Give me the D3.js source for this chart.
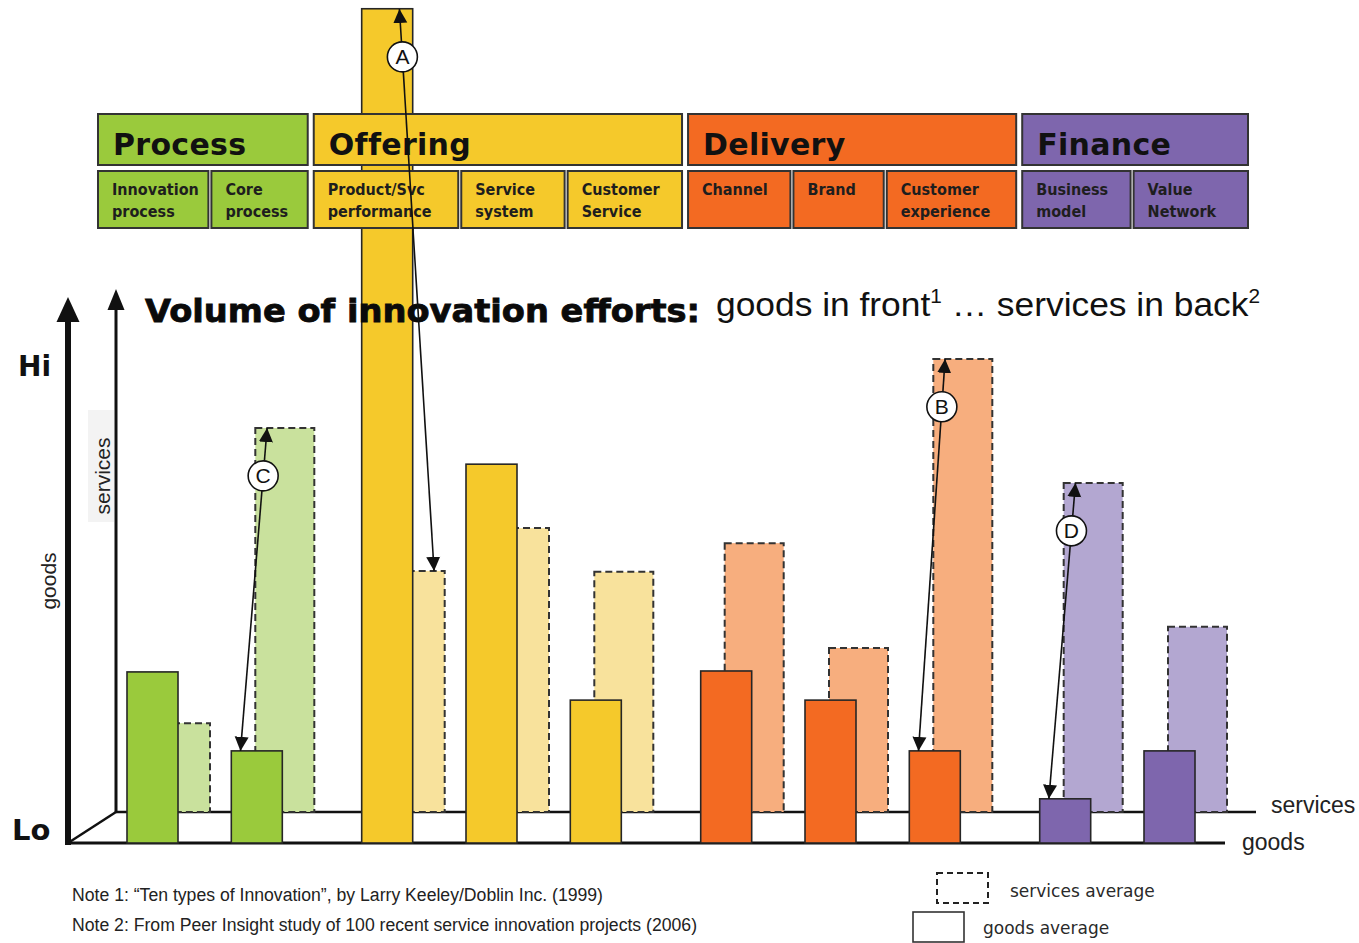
<!DOCTYPE html>
<html>
<head>
<meta charset="utf-8">
<script src="https://cdn.jsdelivr.net/npm/d3@7"></script>
<style>
  html, body { margin: 0; padding: 0; background: #fff; }
  svg { display: block; }
</style>
</head>
<body>
<svg id="chart" width="1359" height="943"></svg>
<script>
// ---------------- data ----------------
const groups = ["Process", "Offering", "Delivery", "Finance"];
const categories = ["Innovation process", "Core process", "Product/Svc performance", "Service system",
  "Customer Service", "Channel", "Brand", "Customer experience", "Business model", "Value Network"];
const categoryGroups = ["Process", "Process", "Offering", "Offering", "Offering",
  "Delivery", "Delivery", "Delivery", "Finance", "Finance"];
// volume of innovation efforts (relative index, 100 = "Hi")
const goodsValues = [36.4, 19.6, 177.5, 80.6, 30.4, 36.6, 30.4, 19.6, 9.4, 19.6];
const servicesValues = [18.9, 81.7, 51.3, 60.4, 51.1, 57.2, 34.9, 96.4, 70.0, 39.4];
const annotationLabels = ["A", "B", "C", "D"];
const annotationCategories = ["Product/Svc performance", "Customer experience", "Core process", "Business model"];
const titleBold = "Volume of innovation efforts:";
const noteTexts = ["Note 1: \u201CTen types of Innovation\u201D, by Larry Keeley/Doblin Inc. (1999)",
  "Note 2: From Peer Insight study of 100 recent service innovation projects (2006)"];
const legendLabels = ["services average", "goods average"];

// ---------------- layout / style ----------------
const groupColor = d3.scaleOrdinal().domain(groups).range(["#9ACA3C", "#F5C92B", "#F36A22", "#7E66AD"]);
const groupLight = d3.scaleOrdinal().domain(groups).range(["#C9E19D", "#F8E29C", "#F7AE7E", "#B3A7D1"]);
const headerWeights = [110, 96, 144, 103, 114, 102, 90, 129, 108, 114];

const svg = d3.select("#chart");
const goodsBase = 843, servBase = 812;
const gW = 51, sW = 59, sDx = 24;

// x positions: category index plus a gap between groups
const unit = categories.map((c, i) => i + 0.25 * groups.indexOf(categoryGroups[i]));
const x = d3.scaleLinear().domain([0, d3.max(unit)]).range([127, 1144]);
const h = d3.scaleLinear().domain([0, 100]).range([0, 470]);

const gLeft = i => x(unit[i]);
const sLeft = i => x(unit[i]) + sDx;
const gTop = i => goodsBase - h(goodsValues[i]);
const sTop = i => servBase - h(servicesValues[i]);

const stroke = "#262626";

// services baseline
svg.append("line").attr("x1", 116).attr("x2", 1256).attr("y1", servBase).attr("y2", servBase)
  .attr("stroke", "#111").attr("stroke-width", 2.5);

// services bars (back)
svg.append("g").selectAll("rect").data(categories).join("rect")
  .attr("x", (d, i) => sLeft(i)).attr("width", sW)
  .attr("y", (d, i) => sTop(i)).attr("height", (d, i) => servBase - sTop(i))
  .attr("fill", (d, i) => groupLight(categoryGroups[i]))
  .attr("stroke", "#333").attr("stroke-width", 2).attr("stroke-dasharray", "7,4");

// "services" label background
svg.append("rect").attr("x", 88).attr("y", 410).attr("width", 26).attr("height", 112).attr("fill", "#f3f3f3");

// axes
svg.append("line").attr("x1", 116).attr("x2", 116).attr("y1", servBase).attr("y2", 306)
  .attr("stroke", "#111").attr("stroke-width", 3);
svg.append("path").attr("d", "M116,289 L124.5,310 L107.5,310 Z").attr("fill", "#111");
svg.append("line").attr("x1", 68).attr("y1", goodsBase).attr("x2", 116).attr("y2", servBase)
  .attr("stroke", "#111").attr("stroke-width", 2.5);
svg.append("line").attr("x1", 68).attr("x2", 68).attr("y1", goodsBase + 2).attr("y2", 318)
  .attr("stroke", "#111").attr("stroke-width", 6);
svg.append("path").attr("d", "M68,297 L79.5,322 L56.5,322 Z").attr("fill", "#111");
svg.append("line").attr("x1", 66).attr("x2", 1225).attr("y1", goodsBase).attr("y2", goodsBase)
  .attr("stroke", "#111").attr("stroke-width", 3);

// goods bars (front)
svg.append("g").selectAll("rect").data(categories).join("rect")
  .attr("x", (d, i) => gLeft(i)).attr("width", gW)
  .attr("y", (d, i) => gTop(i)).attr("height", (d, i) => goodsBase - gTop(i))
  .attr("fill", (d, i) => groupColor(categoryGroups[i]))
  .attr("stroke", stroke).attr("stroke-width", 1.6);

// ---------------- header boxes ----------------
const subBoxes = [];
{
  let pos = 0;
  categories.forEach((c, i) => {
    if (i > 0) pos += (categoryGroups[i] === categoryGroups[i - 1]) ? 3 : 6;
    subBoxes.push({ c, g: categoryGroups[i], a: pos, b: pos + headerWeights[i] });
    pos += headerWeights[i];
  });
}
const hx = d3.scaleLinear().domain([0, d3.max(subBoxes, d => d.b)]).range([98, 1248]);
const head = svg.append("g");
groups.forEach(g => {
  const subs = subBoxes.filter(d => d.g === g);
  const x0 = hx(subs[0].a), x1 = hx(subs[subs.length - 1].b);
  head.append("rect").attr("x", x0).attr("y", 114).attr("width", x1 - x0).attr("height", 51)
    .attr("fill", groupColor(g)).attr("stroke", "#333").attr("stroke-width", 2);
  head.append("text").attr("x", x0 + 15).attr("y", 155).text(g)
    .attr("font-family", "DejaVu Sans, Verdana, sans-serif").attr("font-weight", "bold")
    .attr("font-size", 30).attr("fill", "#111").attr("letter-spacing", 0.3);
});
subBoxes.forEach(d => {
  const x0 = hx(d.a), x1 = hx(d.b);
  head.append("rect").attr("x", x0).attr("y", 171).attr("width", x1 - x0).attr("height", 57)
    .attr("fill", groupColor(d.g)).attr("stroke", "#333").attr("stroke-width", 2);
  const sp = d.c.indexOf(" ");
  const lines = sp < 0 ? [d.c] : [d.c.slice(0, sp), d.c.slice(sp + 1)];
  const t = head.append("text").attr("x", x0 + 14).attr("y", 195)
    .attr("font-family", "DejaVu Sans Condensed, DejaVu Sans, sans-serif")
    .attr("font-stretch", "condensed").attr("font-weight", "bold")
    .attr("font-size", 16).attr("fill", "#1e1e1e");
  lines.forEach((l, k) => t.append("tspan").attr("x", x0 + 14).attr("dy", k === 0 ? 0 : 22).text(l));
});

// ---------------- title ----------------
svg.append("text").attr("x", 145).attr("y", 322).text(titleBold)
  .attr("font-family", "DejaVu Sans, Verdana, sans-serif").attr("font-weight", "bold")
  .attr("font-size", 32).attr("fill", "#0a0a0a").attr("stroke", "#0a0a0a").attr("stroke-width", 0.8)
  .attr("textLength", 555).attr("lengthAdjust", "spacingAndGlyphs");
const sub = svg.append("text").attr("x", 716).attr("y", 316)
  .attr("font-family", "Liberation Sans, Arial, sans-serif").attr("font-size", 34).attr("fill", "#111")
  .attr("textLength", 544).attr("lengthAdjust", "spacingAndGlyphs");
sub.append("tspan").text("goods in front");
sub.append("tspan").attr("font-size", 20).attr("dy", -13).text("1");
sub.append("tspan").attr("dy", 13).text(" \u2026 services in back");
sub.append("tspan").attr("font-size", 20).attr("dy", -13).text("2");

// ---------------- annotations ----------------
const defs = svg.append("defs");
defs.append("marker").attr("id", "ah").attr("viewBox", "0 0 14 14")
  .attr("refX", 14).attr("refY", 7).attr("markerWidth", 14).attr("markerHeight", 15)
  .attr("markerUnits", "userSpaceOnUse").attr("orient", "auto-start-reverse")
  .append("path").attr("d", "M0,0 L14,7 L0,14 Z").attr("fill", "#111");

const ann = svg.append("g");
annotationLabels.forEach((lab, k) => {
  const i = categories.indexOf(annotationCategories[k]);
  const goodsHigher = goodsValues[i] > servicesValues[i];
  const fg = goodsHigher ? 0.74 : 0.18, fs = goodsHigher ? 0.82 : 0.2;
  const p1 = [gLeft(i) + fg * gW, Math.max(gTop(i), 9)];
  const p2 = [sLeft(i) + fs * sW, sTop(i)];
  ann.append("line").attr("x1", p1[0]).attr("y1", p1[1]).attr("x2", p2[0]).attr("y2", p2[1])
    .attr("stroke", "#111").attr("stroke-width", 1.6)
    .attr("marker-start", "url(#ah)").attr("marker-end", "url(#ah)");
  const top = p1[1] < p2[1] ? p1 : p2, bot = p1[1] < p2[1] ? p2 : p1;
  const len = Math.hypot(bot[0] - top[0], bot[1] - top[1]);
  const t = 48 / len;
  const cx = top[0] + (bot[0] - top[0]) * t, cy = top[1] + (bot[1] - top[1]) * t;
  ann.append("circle").attr("cx", cx).attr("cy", cy).attr("r", 15)
    .attr("fill", "#fff").attr("stroke", "#111").attr("stroke-width", 1.6);
  ann.append("text").attr("x", cx).attr("y", cy + 7.5).attr("text-anchor", "middle")
    .attr("font-family", "Liberation Sans, Arial, sans-serif").attr("font-size", 21)
    .attr("fill", "#111").text(lab);
});

// ---------------- axis labels ----------------
const lab = svg.append("g").attr("font-family", "Liberation Sans, Arial, sans-serif").attr("fill", "#111");
lab.append("text").attr("x", 18).attr("y", 376).text("Hi")
  .attr("font-family", "DejaVu Sans, sans-serif").attr("font-weight", "bold").attr("font-size", 28);
lab.append("text").attr("x", 12).attr("y", 840).text("Lo")
  .attr("font-family", "DejaVu Sans, sans-serif").attr("font-weight", "bold").attr("font-size", 29);
lab.append("text").attr("transform", "translate(56,581) rotate(-90)").attr("text-anchor", "middle")
  .attr("font-size", 21).attr("fill", "#222").text("goods");
lab.append("text").attr("transform", "translate(110,476) rotate(-90)").attr("text-anchor", "middle")
  .attr("font-size", 21).attr("fill", "#222").text("services");
lab.append("text").attr("x", 1271).attr("y", 813).attr("font-size", 23).attr("fill", "#222").text("services");
lab.append("text").attr("x", 1242).attr("y", 850).attr("font-size", 23).attr("fill", "#222").text("goods");

// ---------------- notes ----------------
const noteWidths = [531, 625];
noteTexts.forEach((n, k) => {
  svg.append("text").attr("x", 72).attr("y", 901 + k * 30).text(n)
    .attr("font-family", "Liberation Sans Narrow, Liberation Sans, Arial, sans-serif")
    .attr("font-size", 18).attr("fill", "#222")
    .attr("textLength", noteWidths[k]).attr("lengthAdjust", "spacingAndGlyphs");
});

// ---------------- legend ----------------
svg.append("rect").attr("x", 937).attr("y", 873).attr("width", 51).attr("height", 30)
  .attr("fill", "none").attr("stroke", "#222").attr("stroke-width", 2).attr("stroke-dasharray", "6,4");
svg.append("rect").attr("x", 913).attr("y", 912).attr("width", 51).attr("height", 30)
  .attr("fill", "#fff").attr("stroke", "#333").attr("stroke-width", 1.6);
legendLabels.forEach((l, k) => {
  svg.append("text").attr("x", k === 0 ? 1010 : 983).attr("y", k === 0 ? 897 : 934).text(l)
    .attr("font-family", "DejaVu Sans, Verdana, sans-serif").attr("font-size", 17).attr("fill", "#2a2a2a");
});
</script>
</body>
</html>
